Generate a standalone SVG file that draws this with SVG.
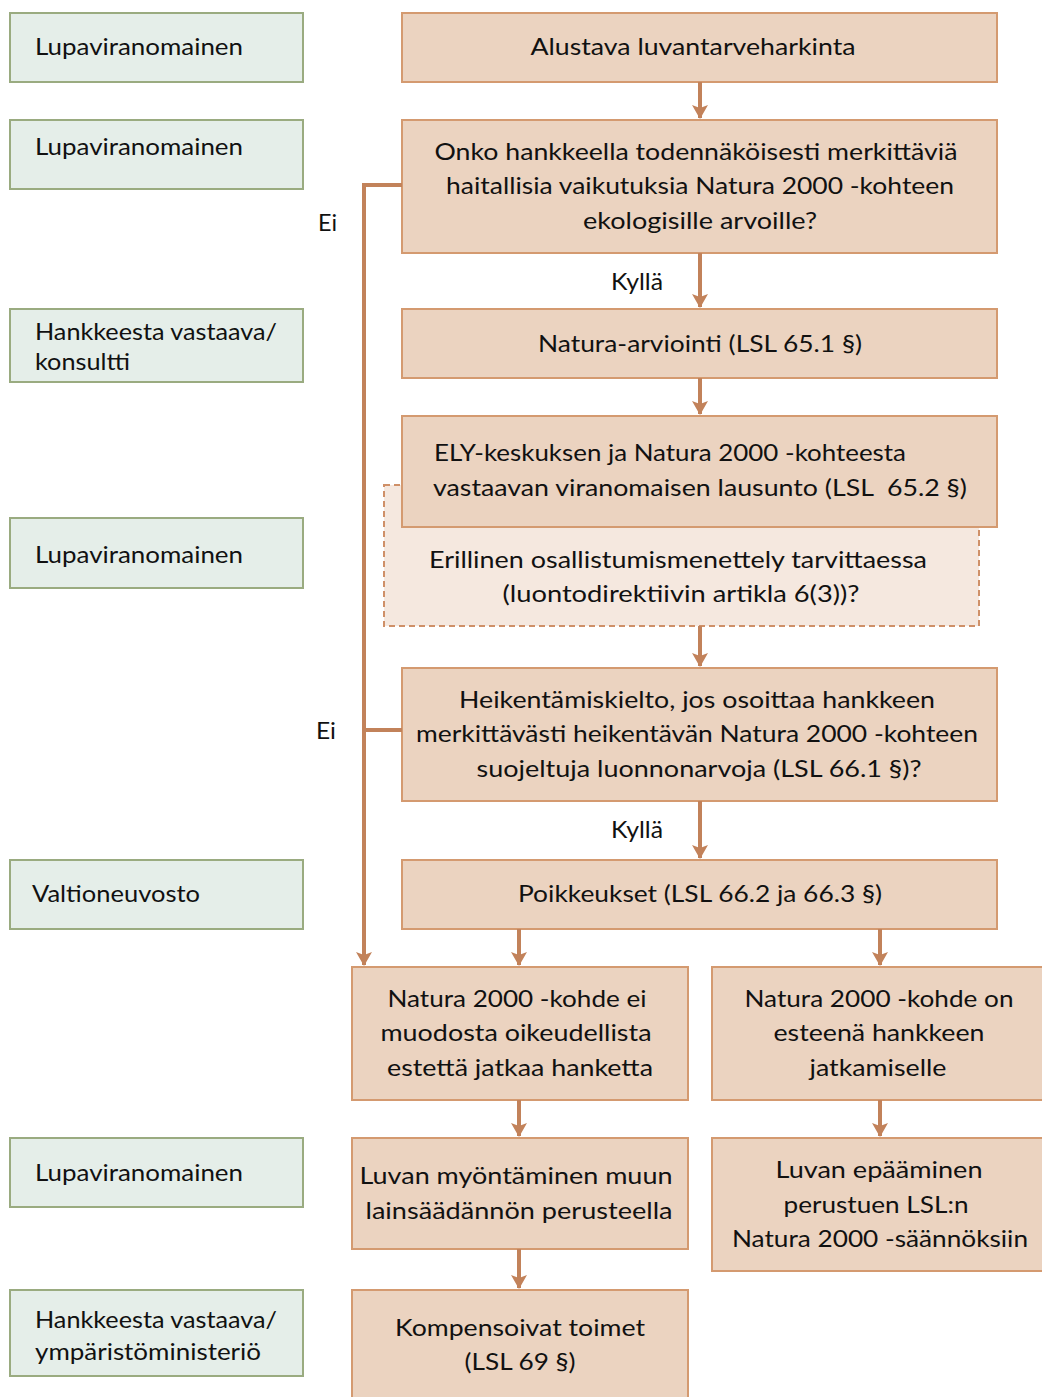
<svg xmlns="http://www.w3.org/2000/svg" width="1042" height="1397" viewBox="0 0 1042 1397">
<defs>
<style>
.role rect{fill:#e5eee9;stroke:#9aab80;stroke-width:2}
.step rect{fill:#ebd3c0;stroke:#d49a70;stroke-width:2}
.dash rect{fill:#f5e8df;stroke:#cf9068;stroke-width:2;stroke-dasharray:6 4}
text{font-family:Lato,"Open Sans","Liberation Sans",sans-serif;font-size:24px;fill:#111}
.c{text-anchor:middle}
.pre{white-space:pre}
.conn path{fill:none;stroke:#c2825a;stroke-width:4}
</style>
<marker id="ah" viewBox="0 0 14 16" refX="13" refY="8" markerUnits="userSpaceOnUse" markerWidth="14" markerHeight="16" orient="auto">
<path d="M0,0 L14,8 L0,16 L3,8 z" fill="#c2825a"/>
</marker>
</defs>
<rect width="1042" height="1397" fill="#fff"/>

<g id="role1" class="role"><rect x="10" y="13" width="293" height="69"/><text x="35" y="55" textLength="208" lengthAdjust="spacingAndGlyphs">Lupaviranomainen</text></g>
<g id="role2" class="role"><rect x="10" y="120" width="293" height="69"/><text x="35" y="155" textLength="208" lengthAdjust="spacingAndGlyphs">Lupaviranomainen</text></g>
<g id="role3" class="role"><rect x="10" y="309" width="293" height="73"/><text x="35" y="340" textLength="242" lengthAdjust="spacingAndGlyphs">Hankkeesta vastaava/</text><text x="35" y="370" textLength="95" lengthAdjust="spacingAndGlyphs">konsultti</text></g>
<g id="role4" class="role"><rect x="10" y="518" width="293" height="70"/><text x="35" y="563" textLength="208" lengthAdjust="spacingAndGlyphs">Lupaviranomainen</text></g>
<g id="role5" class="role"><rect x="10" y="860" width="293" height="69"/><text x="32" y="902" textLength="168" lengthAdjust="spacingAndGlyphs">Valtioneuvosto</text></g>
<g id="role6" class="role"><rect x="10" y="1138" width="293" height="69"/><text x="35" y="1181" textLength="208" lengthAdjust="spacingAndGlyphs">Lupaviranomainen</text></g>
<g id="role7" class="role"><rect x="10" y="1290" width="293" height="86"/><text x="35" y="1328" textLength="242" lengthAdjust="spacingAndGlyphs">Hankkeesta vastaava/</text><text x="35" y="1360" textLength="226" lengthAdjust="spacingAndGlyphs">ympäristöministeriö</text></g>

<g id="participation" class="dash"><rect x="384" y="485" width="595" height="141"/><text class="c" x="678" y="568" textLength="498" lengthAdjust="spacingAndGlyphs">Erillinen osallistumismenettely tarvittaessa</text><text class="c" x="681" y="602" textLength="357" lengthAdjust="spacingAndGlyphs">(luontodirektiivin artikla 6(3))?</text></g>

<g id="s1" class="step"><rect x="402" y="13" width="595" height="69"/><text class="c" x="693" y="55" textLength="325" lengthAdjust="spacingAndGlyphs">Alustava luvantarveharkinta</text></g>
<g id="s2" class="step"><rect x="402" y="120" width="595" height="133"/><text class="c" x="696" y="160" textLength="523" lengthAdjust="spacingAndGlyphs">Onko hankkeella todennäköisesti merkittäviä</text><text class="c" x="700" y="194" textLength="508" lengthAdjust="spacingAndGlyphs">haitallisia vaikutuksia Natura 2000 -kohteen</text><text class="c" x="700" y="229" textLength="234" lengthAdjust="spacingAndGlyphs">ekologisille arvoille?</text></g>
<g id="s3" class="step"><rect x="402" y="309" width="595" height="69"/><text class="c" x="700" y="352" textLength="324" lengthAdjust="spacingAndGlyphs">Natura-arviointi (LSL 65.1 §)</text></g>
<g id="s4" class="step"><rect x="402" y="416" width="595" height="111"/><text x="434" y="461" textLength="472" lengthAdjust="spacingAndGlyphs">ELY-keskuksen ja Natura 2000 -kohteesta</text><text class="pre" x="433" y="496" textLength="534" lengthAdjust="spacingAndGlyphs">vastaavan viranomaisen lausunto (LSL  65.2 §)</text></g>
<g id="s5" class="step"><rect x="402" y="668" width="595" height="133"/><text class="c" x="697" y="708" textLength="476" lengthAdjust="spacingAndGlyphs">Heikentämiskielto, jos osoittaa hankkeen</text><text class="c" x="697" y="742" textLength="562" lengthAdjust="spacingAndGlyphs">merkittävästi heikentävän Natura 2000 -kohteen</text><text class="c" x="699" y="777" textLength="445" lengthAdjust="spacingAndGlyphs">suojeltuja luonnonarvoja (LSL 66.1 §)?</text></g>
<g id="s6" class="step"><rect x="402" y="860" width="595" height="69"/><text class="c" x="700" y="902" textLength="364" lengthAdjust="spacingAndGlyphs">Poikkeukset (LSL 66.2 ja 66.3 §)</text></g>
<g id="b1" class="step"><rect x="352" y="967" width="336" height="133"/><text class="c" x="517" y="1007" textLength="259" lengthAdjust="spacingAndGlyphs">Natura 2000 -kohde ei</text><text class="c" x="516" y="1041" textLength="271" lengthAdjust="spacingAndGlyphs">muodosta oikeudellista</text><text class="c" x="520" y="1076" textLength="266" lengthAdjust="spacingAndGlyphs">estettä jatkaa hanketta</text></g>
<g id="c1" class="step"><rect x="712" y="967" width="340" height="133"/><text class="c" x="879" y="1007" textLength="269" lengthAdjust="spacingAndGlyphs">Natura 2000 -kohde on</text><text class="c" x="879" y="1041" textLength="211" lengthAdjust="spacingAndGlyphs">esteenä hankkeen</text><text class="c" x="878" y="1076" textLength="137" lengthAdjust="spacingAndGlyphs">jatkamiselle</text></g>
<g id="b2" class="step"><rect x="352" y="1138" width="336" height="111"/><text class="c" x="516" y="1184" textLength="313" lengthAdjust="spacingAndGlyphs">Luvan myöntäminen muun</text><text class="c" x="519" y="1219" textLength="307" lengthAdjust="spacingAndGlyphs">lainsäädännön perusteella</text></g>
<g id="c2" class="step"><rect x="712" y="1138" width="340" height="133"/><text class="c" x="879" y="1178" textLength="207" lengthAdjust="spacingAndGlyphs">Luvan epääminen</text><text class="c" x="876" y="1213" textLength="185" lengthAdjust="spacingAndGlyphs">perustuen LSL:n</text><text class="c" x="880" y="1247" textLength="296" lengthAdjust="spacingAndGlyphs">Natura 2000 -säännöksiin</text></g>
<g id="b3" class="step"><rect x="352" y="1290" width="336" height="120"/><text class="c" x="520" y="1336" textLength="250" lengthAdjust="spacingAndGlyphs">Kompensoivat toimet</text><text class="c" x="520" y="1370" textLength="111" lengthAdjust="spacingAndGlyphs">(LSL 69 §)</text></g>

<g id="connectors" class="conn">
<path d="M700,82 V118" marker-end="url(#ah)"/>
<path d="M700,253 V307" marker-end="url(#ah)"/>
<path d="M700,378 V414" marker-end="url(#ah)"/>
<path d="M700,626 V666" marker-end="url(#ah)"/>
<path d="M700,801 V858" marker-end="url(#ah)"/>
<path d="M519,929 V965" marker-end="url(#ah)"/>
<path d="M880,929 V965" marker-end="url(#ah)"/>
<path d="M519,1100 V1136" marker-end="url(#ah)"/>
<path d="M880,1100 V1136" marker-end="url(#ah)"/>
<path d="M519,1249 V1288" marker-end="url(#ah)"/>
<path d="M402,185 H364 V965" marker-end="url(#ah)"/>
<path d="M402,730 H364"/>
<text x="637" y="290" class="c" textLength="52" lengthAdjust="spacingAndGlyphs">Kyllä</text>
<text x="637" y="838" class="c" textLength="52" lengthAdjust="spacingAndGlyphs">Kyllä</text>
<text x="318" y="231" textLength="19" lengthAdjust="spacingAndGlyphs">Ei</text>
<text x="316" y="739" textLength="20" lengthAdjust="spacingAndGlyphs">Ei</text>
</g>
</svg>
